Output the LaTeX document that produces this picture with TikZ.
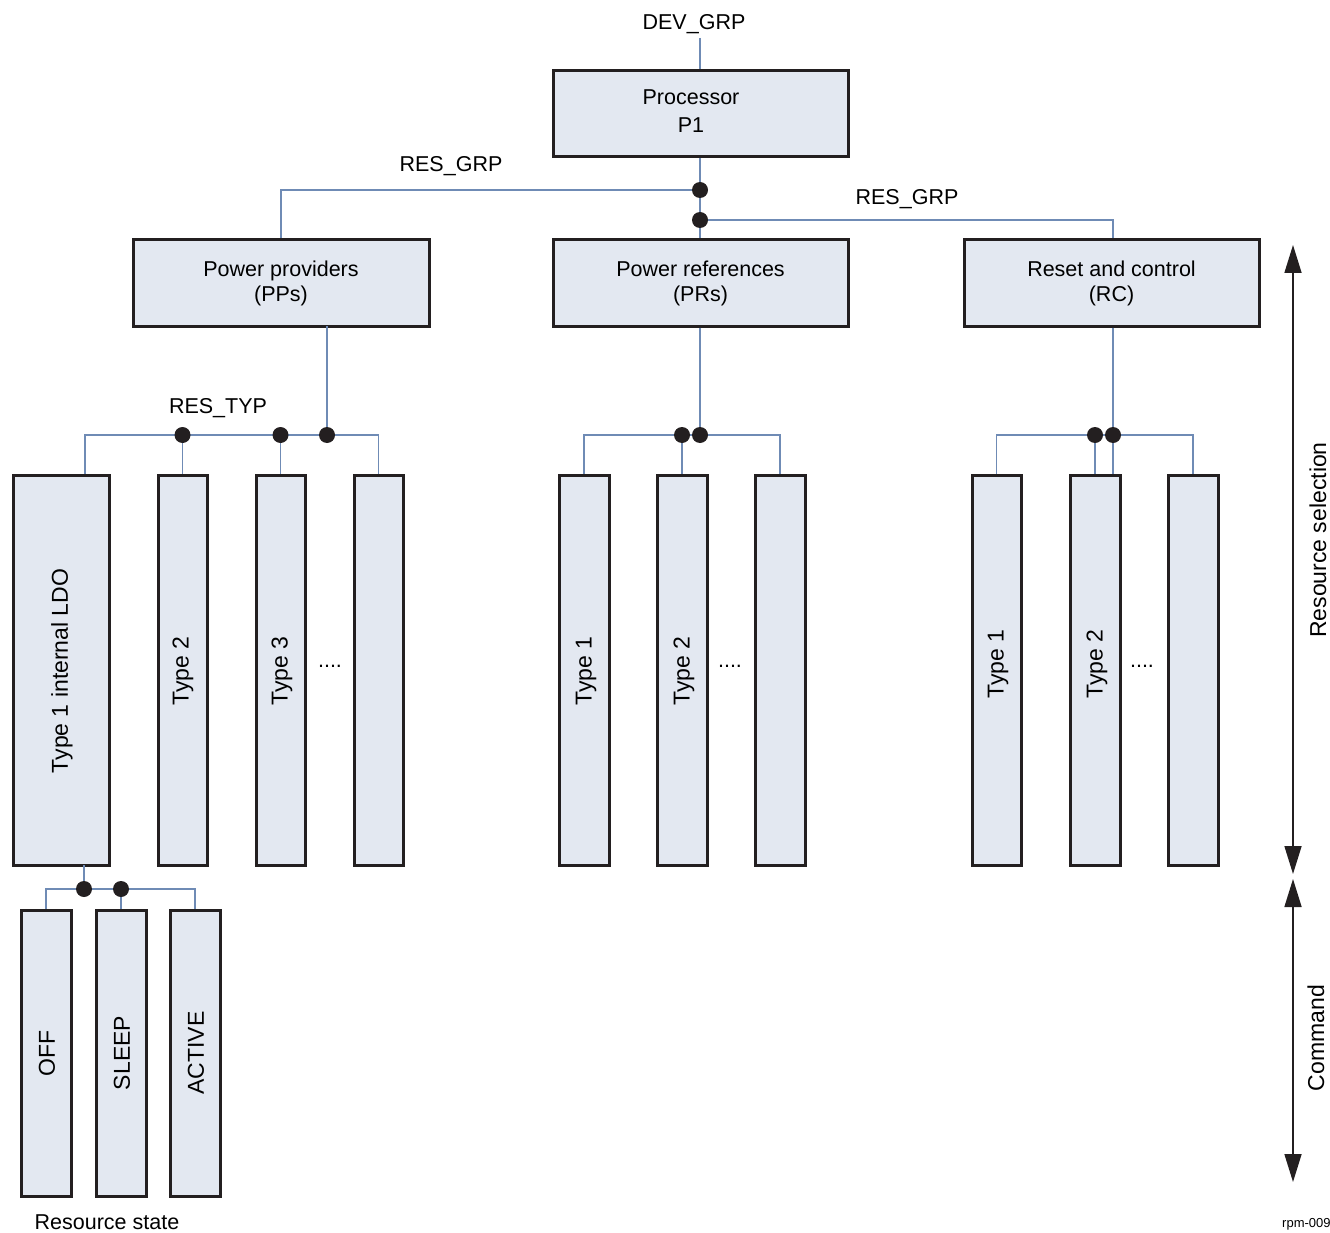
\documentclass[tikz,border=0pt]{standalone}
\usepackage{fontspec}
\setmainfont{Liberation Sans}
\usetikzlibrary{arrows.meta,calc}
\definecolor{boxfill}{HTML}{E3E8F1}
\definecolor{boxline}{HTML}{231F20}
\definecolor{connc}{HTML}{6F8BB5}
\tikzset{
  blk/.style={draw=boxline,line width=3pt,fill=boxfill,inner sep=0pt,align=center,
    font=\fontsize{21.5}{25}\selectfont},
  conn/.style={draw=connc,line width=1.6pt},
  jdot/.style={fill=boxline,draw=none,circle,minimum size=16pt,inner sep=0pt},
  lbl/.style={font=\fontsize{21.5}{25}\selectfont,inner sep=0pt},
  vlbl/.style={font=\fontsize{23}{27}\selectfont,rotate=90,inner sep=0pt},
  rng/.style={draw=boxline,line width=1.6pt,{Triangle[length=28pt,width=17pt]}-{Triangle[length=28pt,width=17pt]}}
}
\begin{document}
\begin{tikzpicture}[x=1pt,y=-1pt]
\useasboundingbox (0,0) rectangle (1330,1233);
% top boxes
\node[blk,minimum width=295pt,minimum height=86pt] (proc) at (700.5,114) {};
\node[lbl,align=center] (proct) at (691,111) {Processor\\[3pt]P1};
\node[blk,minimum width=296pt,minimum height=86pt] (pp) at (281,283) {Power providers\\(PPs)};
\node[blk,minimum width=295pt,minimum height=86pt] (pr) at (700.5,283) {Power references\\(PRs)};
\node[blk,minimum width=295pt,minimum height=86pt] (rc) at (1111.5,283) {Reset and control\\(RC)};
% tall boxes
\node[blk,minimum width=96pt,minimum height=390pt] (ldo) at (61,670) {};
\node[blk,minimum width=49pt,minimum height=390pt] (t2) at (182.5,670) {};
\node[blk,minimum width=49pt,minimum height=390pt] (t3) at (280.5,670) {};
\node[blk,minimum width=49pt,minimum height=390pt] (t4) at (378.5,670) {};
\node[blk,minimum width=50pt,minimum height=390pt] (p1) at (584,670) {};
\node[blk,minimum width=50pt,minimum height=390pt] (p2) at (682,670) {};
\node[blk,minimum width=50pt,minimum height=390pt] (p3) at (780,670) {};
\node[blk,minimum width=49pt,minimum height=390pt] (c1) at (996.5,670) {};
\node[blk,minimum width=50pt,minimum height=390pt] (c2) at (1095,670) {};
\node[blk,minimum width=50pt,minimum height=390pt] (c3) at (1193,670) {};
% state boxes
\node[blk,minimum width=50pt,minimum height=286pt] (off) at (46,1053) {};
\node[blk,minimum width=50pt,minimum height=286pt] (slp) at (121,1053) {};
\node[blk,minimum width=50pt,minimum height=286pt] (act) at (195,1053) {};
% rotated texts
\node[vlbl] (tldo) at (62,671) {Type 1 internal LDO};
\node[vlbl] (tt2) at (183,671) {Type 2};
\node[vlbl] (tt3) at (282,671) {Type 3};
\node[vlbl] (tp1) at (586,671) {Type 1};
\node[vlbl] (tp2) at (684,671) {Type 2};
\node[vlbl] (tc1) at (998,664) {Type 1};
\node[vlbl] (tc2) at (1097,664) {Type 2};
\node[vlbl] (toff) at (47,1053) {OFF};
\node[vlbl] (tslp) at (122,1053) {SLEEP};
\node[vlbl] (tact) at (196,1053) {ACTIVE};
\node[lbl] (dotsa) at (330,666) {....};
\node[lbl] (dotsb) at (730,666) {....};
\node[lbl] (dotsc) at (1142,666) {....};
% labels
\node[lbl] (devgrp) at (694,24) {DEV\_GRP};
\node[lbl] (resgrpa) at (451,166) {RES\_GRP};
\node[lbl] (resgrpb) at (907,199) {RES\_GRP};
\node[lbl] (restyp) at (218,408) {RES\_TYP};
\node[lbl] (resstate) at (107,1222) {Resource state};
\node[vlbl] (ressel) at (1318,540) {Resource selection};
\node[vlbl] (cmd) at (1316,1038) {Command};
\node[font=\fontsize{13}{15}\selectfont,anchor=west,inner sep=0pt] (rpm) at (1282,1224) {rpm-009};
% coordinates
\coordinate (devtop) at (700,38);
\coordinate (g1) at (700,190);
\coordinate (g2) at (700,220);
\coordinate (ppdrop) at (327,326);
\coordinate (bA) at (85,435);
\coordinate (r1) at (327,435);
\coordinate (prb) at (700,435);
\coordinate (rcb) at (1113,435);
\coordinate (ldodrop) at (84,865);
\coordinate (sb) at (84,889);
% connectors
\draw[conn] (devtop) -- (proc.north -| devtop);
\draw[conn] (proc.south -| g1) -- (pr.north -| g1);
\draw[conn] (g1) -| (pp.north);
\draw[conn] (g2) -| (rc.north -| rcb);
\draw[conn] (ppdrop) -- (r1);
\draw[conn] (ldo.north -| bA) -- (bA) -- (r1 -| t4.north) -- (t4.north);
\draw[conn] (t2.north) -- (t2.north |- bA);
\draw[conn] (t3.north) -- (t3.north |- bA);
\draw[conn] (pr.south -| prb) -- (prb);
\draw[conn] (p1.north) |- (prb) -| (p3.north);
\draw[conn] (p2.north) -- (p2.north |- prb);
\draw[conn] (rc.south -| rcb) -- (c2.north -| rcb);
\draw[conn] (c1.north) |- (rcb) -| (c3.north);
\draw[conn] (c2.north) -- (c2.north |- rcb);
\draw[conn] (ldodrop) -- (sb);
\draw[conn] (off.north) |- (sb) -| (act.north);
\draw[conn] (slp.north) -- (slp.north |- sb);
% dots
\node[jdot] (j1) at (g1) {};
\node[jdot] (j2) at (g2) {};
\node[jdot] (j3) at (t2.north |- bA) {};
\node[jdot] (j4) at (t3.north |- bA) {};
\node[jdot] (j5) at (r1) {};
\node[jdot] (j6) at (p2.north |- prb) {};
\node[jdot] (j7) at (prb) {};
\node[jdot] (j8) at (c2.north |- rcb) {};
\node[jdot] (j9) at (rcb) {};
\node[jdot] (j10) at (sb) {};
\node[jdot] (j11) at (slp.north |- sb) {};
% range arrows
\coordinate (a1t) at (1293,245);
\coordinate (a1b) at (1293,874);
\coordinate (a2t) at (1293,879);
\coordinate (a2b) at (1293,1182);
\draw[rng] (a1t) -- (a1b);
\draw[rng] (a2t) -- (a2b);
\end{tikzpicture}
\end{document}
